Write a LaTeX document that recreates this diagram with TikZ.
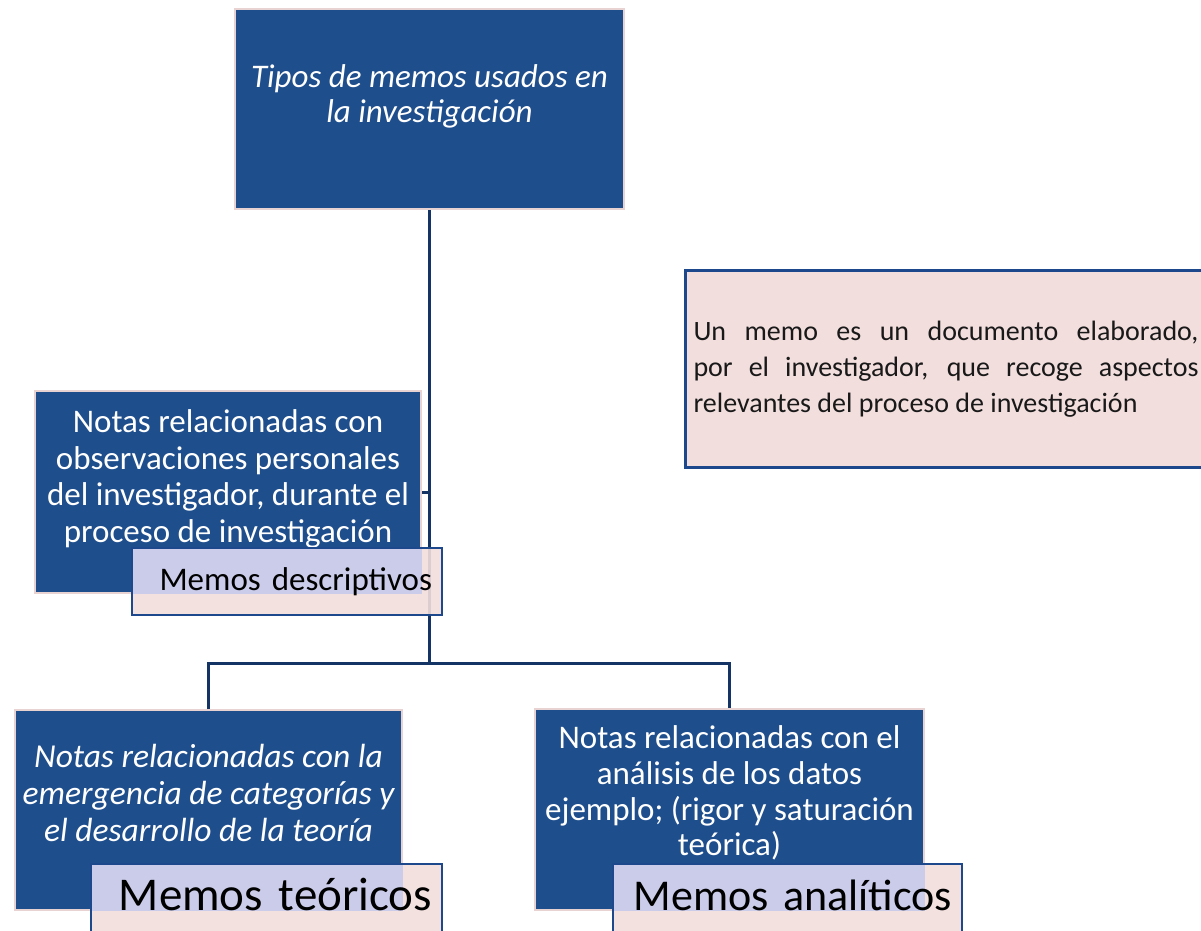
\documentclass[tikz,border=0pt]{standalone}
\usepackage{fontspec}
\setmainfont{Carlito}
\definecolor{memoblue}{RGB}{31,78,141}
\definecolor{memoedge}{RGB}{232,210,210}
\definecolor{memoline}{RGB}{20,52,102}
\definecolor{memopink}{RGB}{242,222,221}
\definecolor{memolilac}{RGB}{203,204,234}
\definecolor{tagedge}{RGB}{30,72,140}
\usetikzlibrary{positioning}

\begin{document}
\begin{tikzpicture}[x=1pt,y=-1pt,
    memobox/.style={fill=memoblue, draw=memoedge, line width=2pt, inner sep=0pt},
    memotext/.style={text=white, align=center, inner sep=0pt},
    tagbox/.style={fill=memopink, fill opacity=0.9, text opacity=1, draw=tagedge,
      line width=2.5pt, inner xsep=10pt, inner ysep=0pt, align=right,
      font=\fontsize{#1}{#1}\selectfont},
    conn/.style={draw=memoline, line width=3pt}]
    % page frame
    \useasboundingbox (0,0) rectangle (1201,930);
    % boxes
    \node[memobox, minimum width=389pt, minimum height=200pt] (tipos) at (429.5,109) {};
    \node[memobox, minimum width=386pt, minimum height=202pt] (desc) at (228,492) {};
    \node[memobox, minimum width=387pt, minimum height=200pt] (teo) at (208.5,810) {};
    \node[memobox, minimum width=389pt, minimum height=201pt] (ana) at (729.5,809.5) {};
    % connectors
    \coordinate (bus) at (429.5,663);
    \draw[conn] (tipos.south) -- (bus);
    \draw[conn] (teo.north) |- (bus) -| (ana.north);
    \draw[conn] (desc.east) -- (desc.east -| bus);
    % texts of the boxes
    \node[memotext, font=\fontsize{33}{35}\selectfont\itshape] (tipostxt)
      at ([yshift=12.5pt]tipos.center) {Tipos de memos usados en\\la investigación};
    \node[memotext, font=\fontsize{33}{36.5}\selectfont] (desctxt)
      at ([yshift=13pt]desc.center) {Notas relacionadas con\\observaciones personales\\del investigador, durante el\\proceso de investigación};
    \node[memotext, font=\fontsize{33.5}{37}\selectfont\itshape] (teotxt)
      at ([yshift=17.5pt]teo.center) {Notas relacionadas con la\\emergencia de categorías y\\el desarrollo de la teoría};
    \node[memotext, font=\fontsize{33}{35.7}\selectfont] (anatxt)
      at ([yshift=16.5pt]ana.center) {Notas relacionadas con el\\análisis de los datos\\ejemplo; (rigor y saturación\\teórica)};
    % name tags
    \node[tagbox=33, minimum width=310pt, minimum height=67pt, text width=290pt,
      text height=26pt, text depth=9pt,
      path picture={\fill[memolilac, fill opacity=1] (desc.north west) rectangle (desc.south east);}]
      (desctag) at (287,581.5) {Memos descriptivos};
    \node[tagbox=47, minimum width=351pt, minimum height=74pt, text width=331pt,
      text height=36pt, text depth=18pt,
      path picture={\fill[memolilac, fill opacity=1] (teo.north west) rectangle (teo.south east);}]
      (teotag) at (266.5,901) {Memos teóricos};
    \node[tagbox=44, minimum width=349pt, minimum height=74pt, text width=329pt,
      text height=34pt, text depth=16pt,
      path picture={\fill[memolilac, fill opacity=1] (ana.north west) rectangle (ana.south east);}]
      (anatag) at (787.5,901) {Memos analíticos};
    % definition
    \node[draw=tagedge, line width=3pt, fill=memopink, anchor=west, text width=505pt,
      inner xsep=8pt, minimum height=197pt, align=justify, text=black!90,
      font=\fontsize{28}{36}\selectfont] (info) at (684,369)
      {Un memo es un documento elaborado,\linebreak por el investigador, que recoge aspectos\linebreak relevantes del proceso de investigación};
\end{tikzpicture}
\end{document}
